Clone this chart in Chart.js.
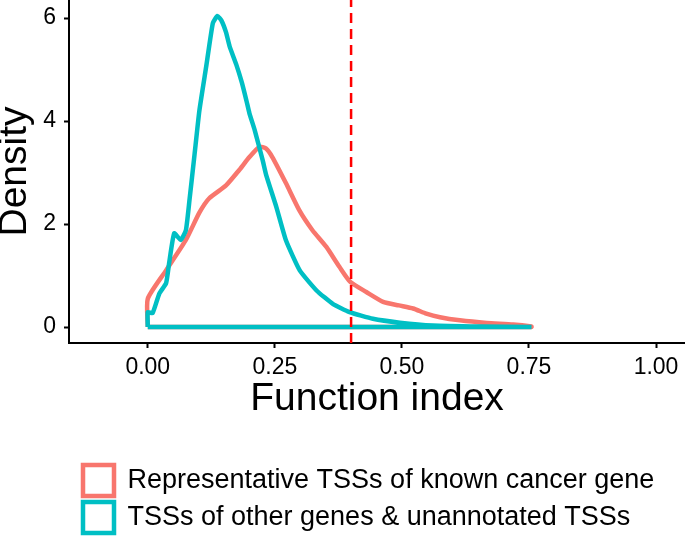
<!DOCTYPE html>
<html>
<head>
<meta charset="utf-8">
<script src="https://cdn.jsdelivr.net/npm/chart.js@4.4.4/dist/chart.umd.min.js"></script>
<style>
  html, body { margin: 0; padding: 0; background: #fff; }
  #wrap { width: 685px; height: 537px; position: relative; }
</style>
</head>
<body>
<div id="wrap"><canvas id="densityChart"></canvas></div>
<script>
// Density curves (x = function index, y = density)
const cancerX = [0, 0.036, 0.075, 0.1015, 0.121, 0.154, 0.180, 0.200, 0.220, 0.232, 0.245,
                 0.272, 0.298, 0.324, 0.351, 0.377, 0.399, 0.430, 0.463, 0.494, 0.522, 0.548,
                 0.575, 0.614, 0.667, 0.719, 0.755];
const cancerY = [0.55, 1.10, 1.69, 2.22, 2.50, 2.75, 3.05, 3.30, 3.50, 3.47, 3.30,
                 2.79, 2.27, 1.88, 1.56, 1.17, 0.87, 0.68, 0.49, 0.42, 0.36, 0.26,
                 0.19, 0.13, 0.08, 0.05, 0.01];

const otherX = [0, 0.0095, 0.0227, 0.036, 0.042, 0.052, 0.065, 0.075, 0.082, 0.092, 0.1015, 0.115,
                0.128, 0.137, 0.145, 0.154, 0.161, 0.174, 0.185, 0.194, 0.200, 0.2105, 0.226, 0.233,
                0.253, 0.272, 0.299, 0.332, 0.364, 0.397, 0.443, 0.496, 0.561, 0.653, 0.755];
const otherY = [0.29, 0.27, 0.65, 0.85, 1.24, 1.82, 1.69, 1.88, 2.46, 3.35, 4.2, 5.06,
                5.9, 6.04, 5.95, 5.72, 5.45, 5.1, 4.75, 4.4, 4.15, 3.82, 3.24, 2.95,
                2.33, 1.68, 1.10, 0.71, 0.45, 0.29, 0.16, 0.085, 0.03, 0.01, 0.0];

const seriesNames = ['Representative TSSs of known cancer gene', 'TSSs of other genes & unannotated TSSs'];
const xTicks = [0, 0.25, 0.5, 0.75, 1];
const yTicks = [0, 2, 4, 6];
const cutoff = 0.4;

const xRange = [-0.155, 1.057];
const yRange = [-0.31, 6.35];

// geom_density draws a closed outline: up from the baseline, along the curve, back along y = 0
function outline(xs, ys) {
    const pts = xs.map((x, i) => ({ x, y: ys[i] }));
    pts.unshift({ x: xs[0], y: 0 });
    pts.push({ x: xs[xs.length - 1], y: 0 }, { x: xs[0], y: 0 });
    return pts;
}

// nudge the legend block to where ggplot puts it
const legendShift = {
    id: 'legendShift',
    afterLayout(chart) {
        const lg = chart.legend;
        lg.left += 8; lg.right += 8;
        lg.top += 6; lg.bottom += 6;
    }
};

Chart.defaults.font.family = '"Liberation Sans", Arial, sans-serif';
Chart.defaults.color = '#000';

const ctx = document.getElementById('densityChart').getContext('2d');
new Chart(ctx, {
    type: 'scatter',
    data: {
        datasets: [
            {
                label: seriesNames[0],
                data: outline(cancerX, cancerY),
                showLine: true,
                borderColor: '#F8766D',
                backgroundColor: 'rgba(255,255,255,0)',
                borderWidth: 4.5,
                pointRadius: 0,
                tension: 0.2,
                order: 2
            },
            {
                label: seriesNames[1],
                data: outline(otherX, otherY),
                showLine: true,
                borderColor: '#00BFC4',
                backgroundColor: 'rgba(255,255,255,0)',
                borderWidth: 4.5,
                pointRadius: 0,
                tension: 0.15,
                order: 1
            },
            {
                label: 'cutoff',
                data: [{ x: cutoff, y: yRange[0] }, { x: cutoff, y: yRange[1] }],
                showLine: true,
                borderColor: '#FF0000',
                borderWidth: 2.5,
                borderDash: [10, 6],
                pointRadius: 0,
                order: 0
            }
        ]
    },
    options: {
        responsive: true,
        maintainAspectRatio: false,
        animation: false,
        layout: { padding: 0 },
        plugins: {
            tooltip: { enabled: false },
            legend: {
                position: 'bottom',
                align: 'start',
                fullSize: false,
                labels: {
                    boxWidth: 31,
                    boxHeight: 31,
                    padding: 6,
                    font: { size: 27 },
                    color: '#000',
                    filter: item => item.datasetIndex < 2,
                    sort: (a, b) => a.datasetIndex - b.datasetIndex
                }
            }
        },
        scales: {
            x: {
                type: 'linear',
                min: xRange[0],
                max: xRange[1],
                afterBuildTicks: s => { s.ticks = xTicks.map(v => ({ value: v })); },
                afterFit: s => { s.height = 110; s.paddingLeft = 0; s.paddingRight = 0; },
                grid: { drawOnChartArea: false, drawTicks: true, tickLength: 5, tickWidth: 2, tickColor: '#000' },
                border: { display: true, color: '#000', width: 2 },
                ticks: {
                    padding: 6,
                    font: { size: 23 },
                    color: '#000',
                    maxRotation: 0,
                    callback: v => v.toFixed(2)
                },
                title: {
                    display: true,
                    text: 'Function index',
                    font: { size: 39 },
                    color: '#000',
                    padding: { top: 0, bottom: 30 }
                }
            },
            y: {
                type: 'linear',
                min: yRange[0],
                max: yRange[1],
                afterBuildTicks: s => { s.ticks = yTicks.map(v => ({ value: v })); },
                afterFit: s => { s.width = 69; s.paddingTop = 0; s.paddingBottom = 0; },
                grid: { drawOnChartArea: false, drawTicks: true, tickLength: 5, tickWidth: 2, tickColor: '#000' },
                border: { display: true, color: '#000', width: 2 },
                ticks: {
                    padding: 8,
                    font: { size: 23 },
                    color: '#000',
                    callback: v => String(v)
                },
                title: {
                    display: true,
                    text: 'Density',
                    font: { size: 39, lineHeight: 0.8 },
                    color: '#000',
                    padding: 0
                }
            }
        }
    },
    plugins: [legendShift]
});
</script>
</body>
</html>
